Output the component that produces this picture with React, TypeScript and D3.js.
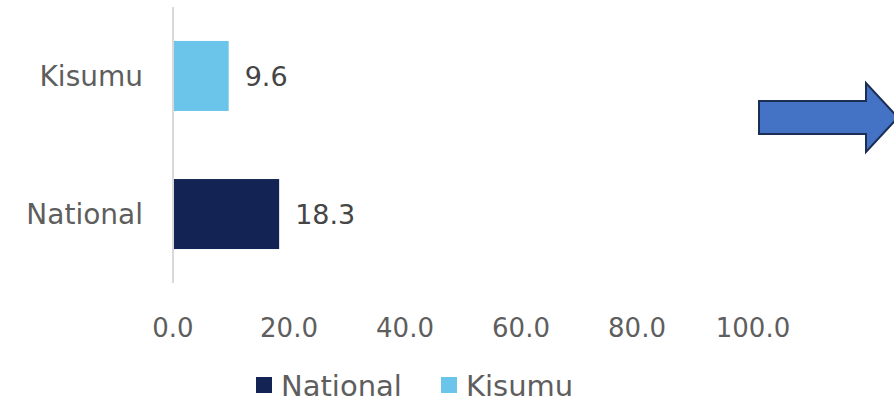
import React from "react";
import * as d3 from "d3";

const categories = ["Kisumu", "National"];
const values = [9.6, 18.3];
const colors = ["#6BC5EB", "#132454"];
const ticks = [0, 20, 40, 60, 80, 100];
const legendItems = ["National", "Kisumu"];
const legendColors = ["#132454", "#6BC5EB"];

const W = 894;
const H = 402;
const FONT = "'DejaVu Sans', sans-serif";
const TEXT = "#5E5E5E";

export default function App() {
  const x = d3.scaleLinear().domain([0, 100]).range([173, 753]);
  const y = d3
    .scaleBand<string>()
    .domain(categories)
    .range([7, 283])
    .paddingInner(0.493)
    .paddingOuter(0.246);

  const legendX = [256, 441];

  return (
    <svg
      width={W}
      height={H}
      style={{ position: "absolute", left: 0, top: 0, background: "#fff" }}
      fontFamily={FONT}
    >
      {categories.map((c, i) => (
        <g key={c}>
          <rect
            x={x(0)}
            y={y(c)!}
            width={x(values[i]) - x(0)}
            height={y.bandwidth()}
            fill={colors[i]}
          />
          <text
            x={x(values[i]) + 16}
            y={y(c)! + y.bandwidth() / 2}
            dy="0.37em"
            fontSize={27}
            fill="#454545"
          >
            {values[i].toFixed(1)}
          </text>
          <text
            x={143}
            y={y(c)! + y.bandwidth() / 2}
            dy="0.37em"
            fontSize={28}
            fill={TEXT}
            textAnchor="end"
          >
            {c}
          </text>
        </g>
      ))}
      <line x1={x(0)} x2={x(0)} y1={7} y2={283} stroke="#D9D9D9" strokeWidth={2} />
      {ticks.map((t) => (
        <text
          key={t}
          x={x(t)}
          y={337}
          fontSize={26}
          fill={TEXT}
          textAnchor="middle"
        >
          {t.toFixed(1)}
        </text>
      ))}
      {legendItems.map((l, i) => (
        <g key={l}>
          <rect x={legendX[i]} y={377} width={16} height={16} fill={legendColors[i]} />
          <text x={legendX[i] + 25} y={396} fontSize={29} fill={TEXT}>
            {l}
          </text>
        </g>
      ))}
      <path
        d="M759,101 L866,101 L866,83 L898,117.5 L866,152 L866,134 L759,134 Z"
        fill="#4472C4"
        stroke="#1B2F55"
        strokeWidth={2}
      />
    </svg>
  );
}
